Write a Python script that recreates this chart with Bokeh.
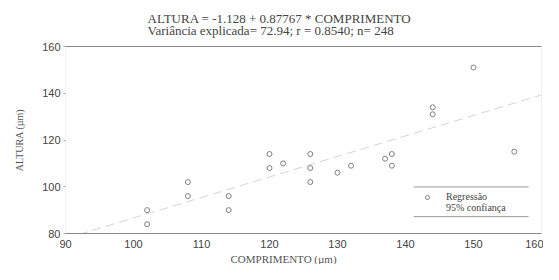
from bokeh.plotting import figure
from bokeh.models import Range1d, LinearAxis, FixedTicker, Legend, LegendItem, Title
from bokeh.embed import file_html
from bokeh.resources import INLINE

# data
comprimento = [102, 102, 108, 108, 114, 114, 120, 120, 122, 126, 126, 126,
               130, 132, 137, 138, 138, 144, 144, 150, 156]
altura = [90, 84, 102, 96, 96, 90, 114, 108, 110, 114, 108, 102,
          106, 109, 112, 114, 109, 134, 131, 151, 115]
x_ticks = [90, 100, 110, 120, 130, 140, 150, 160]
y_ticks = [80, 100, 120, 140, 160]
intercept = -1.128
slope = 0.87767
line_x = [90, 160]
line_y = [intercept + slope * v for v in line_x]

title1 = "ALTURA = -1.128 + 0.87767 * COMPRIMENTO"
title2 = "Variância explicada= 72.94; r = 0.8540; n= 248"
x_label = "COMPRIMENTO (µm)"

SERIF = "Liberation Serif"
SANS = "Liberation Sans"

p = figure(width=543, height=264, output_backend="svg", toolbar_location=None,
           x_range=Range1d(90, 160), y_range=Range1d(80, 160),
           min_border_left=65, min_border_right=2, min_border_top=46,
           min_border_bottom=29, x_axis_location=None, y_axis_location=None)
p.grid.visible = False
p.outline_line_color = "#f0f0f0"
p.background_fill_color = "white"
p.border_fill_color = "white"

# bottom axis
xa = LinearAxis(ticker=FixedTicker(ticks=x_ticks))
xa.axis_line_color = "#8a8a8a"
xa.major_tick_line_color = None
xa.minor_tick_line_color = None
xa.major_label_text_font = SANS
xa.major_label_text_font_size = "11px"
xa.major_label_text_color = "#444444"
xa.major_label_standoff = 0
p.add_layout(xa, "below")

# left axis
ya = LinearAxis(ticker=FixedTicker(ticks=y_ticks))
ya.axis_line_color = None
ya.major_tick_line_color = "#aaaaaa"
ya.major_tick_out = 2
ya.major_tick_in = 0
ya.minor_tick_line_color = None
ya.major_label_text_font = SANS
ya.major_label_text_font_size = "11px"
ya.major_label_text_color = "#444444"
ya.major_label_standoff = 3
ya.axis_label = "ALTURA (µm)"
ya.axis_label_text_font = SERIF
ya.axis_label_text_font_style = "normal"
ya.axis_label_text_font_size = "10px"
ya.axis_label_text_color = "#555555"
ya.axis_label_standoff = 14
p.add_layout(ya, "left")

# top frame line
ta = LinearAxis(ticker=FixedTicker(ticks=[]))
ta.axis_line_color = "#8a8a8a"
ta.major_label_text_font_size = "0px"
ta.major_tick_line_color = None
ta.minor_tick_line_color = None
p.add_layout(ta, "above")

# regression line
reg = p.line(line_x, line_y, line_color="#d4d4d4", line_width=1, line_dash="9 5")

# points
pts = p.scatter(comprimento, altura, marker="circle", size=5, fill_color=None,
                line_color="#808080", line_width=1)

# legend decoration lines
p.segment(x0=[141.2, 141.2], y0=[99.9, 87.2], x1=[158.1, 158.1], y1=[99.9, 87.2],
          line_color="#9a9a9a", line_width=1)

legend = Legend(items=[LegendItem(label="Regressão", renderers=[pts]),
                       LegendItem(label="95% confiança", renderers=[])],
                location=(356, 20))
legend.border_line_color = None
legend.background_fill_alpha = 0
legend.padding = 2
legend.spacing = 0
legend.glyph_width = 12
legend.glyph_height = 10
legend.label_standoff = 13
legend.label_height = 10
legend.label_text_font = SERIF
legend.label_text_font_size = "10px"
legend.label_text_color = "#444444"
legend.margin = 0
p.add_layout(legend, "center")

# x label as a title below
xt = Title(text=x_label, align="left", offset=165,
           text_font=SERIF, text_font_size="11px", text_font_style="normal",
           text_color="#555555", standoff=0, text_line_height=0.85)
p.add_layout(xt, "below")

# two-line title
t = Title(text=title1 + "\n" + title2, align="left", offset=82, text_font=SERIF,
          text_font_size="13px", text_font_style="normal", text_color="#444444",
          text_line_height=0.78, standoff=17)
p.add_layout(t, "above")

open("out.html", "w").write(file_html(p, INLINE))
